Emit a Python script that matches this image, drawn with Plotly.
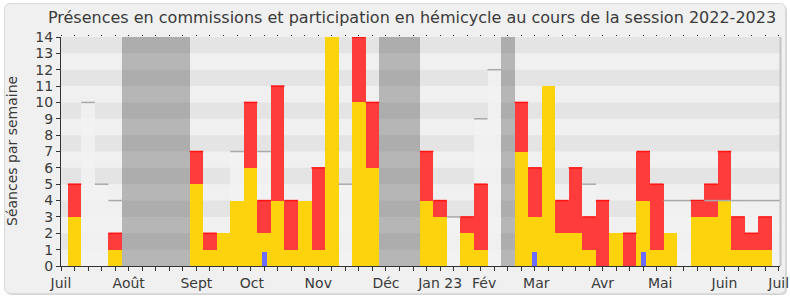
import plotly.graph_objects as go

# ---------------- data (semaine 0 = semaine du 4 juillet 2022) ----------------
weeks = list(range(53))
commission = [3, 0, 0, 1, 0, 0, 0, 0, 0, 5, 1, 2, 4, 6, 2, 4, 1, 4, 1, 14, 0, 10, 6, 0, 0, 0,
              4, 3, 0, 2, 1, 0, 0, 7, 3, 11, 2, 2, 1, 0, 2, 0, 4, 1, 2, 0, 3, 3, 4, 1, 1, 1, 0]
hemicycle = [2, 0, 0, 1, 0, 0, 0, 0, 0, 2, 1, 0, 0, 4, 2, 7, 3, 0, 5, 0, 0, 4, 4, 0, 0, 0,
             3, 1, 0, 1, 4, 0, 0, 3, 3, 0, 2, 4, 2, 4, 0, 2, 3, 4, 0, 0, 1, 2, 3, 2, 1, 2, 0]
questions_weeks = [14, 34, 42]
questions_vals = [0.85, 0.85, 0.85]
mediane_weeks = [1, 2, 3, 12, 14, 20, 28, 30, 31, 38, 44, 45, 46, 47, 48, 49, 50, 51, 52]
mediane_vals = [10, 5, 4, 7, 7, 5, 3, 9, 12, 5, 4, 4, 4, 4, 4, 4, 4, 4, 4]
vacances_weeks = [4, 5, 6, 7, 8, 23, 24, 25, 32]
month_pos = [-1, 4, 9, 13.1, 18, 23, 27, 30.25, 34.1, 39, 43.25, 48, 52]
month_labels = ["Juil", "Août", "Sept", "Oct", "Nov", "Déc", "Jan 23", "Fév", "Mar",
                "Avr", "Mai", "Juin", "Juil"]
y_max = 14

# ---------------- styles ----------------
YELLOW = "#FCD30C"
RED = "#FF3C3C"
RED_TOP = "#FF1212"
BLUE = "#6B6BFF"
TXT = "#3a3a3a"
FONT = "DejaVu Sans"
XR = [-1, 52.1]

def segs(xs, ys):
    sx, sy = [], []
    for x, y in zip(xs, ys):
        sx += [x - 0.5, x + 0.5, None]
        sy += [y, y, None]
    return sx, sy

fig = go.Figure()

# vacances
fig.add_trace(go.Bar(x=vacances_weeks, y=[y_max] * len(vacances_weeks), width=1,
                     marker=dict(color="rgba(0,0,0,0.24)", line=dict(width=0)),
                     hoverinfo="skip", showlegend=False))
# médiane
fig.add_trace(go.Bar(x=mediane_weeks, y=mediane_vals, width=1,
                     marker=dict(color="rgba(243,243,243,0.8)", line=dict(width=0)),
                     hoverinfo="skip", showlegend=False))
mx, my = segs(mediane_weeks, mediane_vals)
fig.add_trace(go.Scatter(x=mx, y=my, mode="lines", line=dict(color="#a9a9a9", width=1.5),
                         hoverinfo="skip", showlegend=False))
# hémicycle (empilé sur commission)
fig.add_trace(go.Bar(x=weeks, y=[h if h else None for h in hemicycle], base=commission, width=1,
                     marker=dict(color=RED, line=dict(width=0)), showlegend=False,
                     name="Participation en hémicycle"))
# commission
fig.add_trace(go.Bar(x=weeks, y=[c if c else None for c in commission], width=1,
                     marker=dict(color=YELLOW, line=dict(width=0)), showlegend=False,
                     name="Présence en commission"))
# ligne du haut des barres rouges
rw = [w for w, h in zip(weeks, hemicycle) if h]
rt = [c + h for c, h in zip(commission, hemicycle) if h]
rx, ry = segs(rw, rt)
fig.add_trace(go.Scatter(x=rx, y=ry, mode="lines", line=dict(color=RED_TOP, width=1.5),
                         xaxis="x2", hoverinfo="skip", showlegend=False))
# questions
fig.add_trace(go.Bar(x=questions_weeks, y=questions_vals, width=0.37, xaxis="x3",
                     marker=dict(color=BLUE, line=dict(width=0)), showlegend=False,
                     name="Questions"))

# ---------------- layout ----------------
L, R, T, B = 61, 10, 37, 34
W, H = 790, 300
pw, ph = W - L - R, H - T - B

def px(x):
    return (x - L) / pw

def py(y):
    return (H - B - y) / ph

def rounded(x0, y0, x1, y1, r):
    rx, ry = r / pw, r / ph
    X0, X1, Y0, Y1 = px(x0), px(x1), py(y0), py(y1)
    return (f"M {X0+rx},{Y0} L {X1-rx},{Y0} Q {X1},{Y0} {X1},{Y0-ry} "
            f"L {X1},{Y1+ry} Q {X1},{Y1} {X1-rx},{Y1} L {X0+rx},{Y1} "
            f"Q {X0},{Y1} {X0},{Y1+ry} L {X0},{Y0-ry} Q {X0},{Y0} {X0+rx},{Y0} Z")

shapes = [
    dict(type="path", xref="paper", yref="paper", path=rounded(6, 5, 787, 295, 6),
         fillcolor="#d6d6d6", line=dict(width=0), layer="below"),
    dict(type="path", xref="paper", yref="paper", path=rounded(4.5, 3.5, 785.5, 293.5, 6),
         fillcolor="#f0f0f0", line=dict(color="#dadada", width=1), layer="below"),
    dict(type="line", xref="paper", yref="paper", x0=px(780.5), x1=px(780.5), y0=0, y1=1,
         line=dict(color="#c4c4c4", width=2), layer="above"),
]
for k in range(1, y_max, 2):
    shapes.append(dict(type="rect", xref="paper", yref="y", x0=0, x1=1, y0=k, y1=k + 1,
                       fillcolor="#e4e4e4", line=dict(width=0), layer="below"))

fig.update_layout(
    width=W, height=H,
    margin=dict(l=L, r=R, t=T, b=B, pad=0, autoexpand=False),
    paper_bgcolor="white", plot_bgcolor="#fafafa",
    barmode="overlay", bargap=0,
    font=dict(family=FONT, color=TXT, size=14),
    title=dict(text="Présences en commissions et participation en hémicycle au cours de la session 2022-2023",
               x=412 / W, xanchor="center", y=1 - 17 / H, yanchor="middle",
               font=dict(family=FONT, size=16, color=TXT)),
    shapes=shapes,
    xaxis=dict(range=XR, tickmode="array", tickvals=list(range(-1, 53)), showticklabels=False,
               ticks="outside", ticklen=4, tickwidth=1, tickcolor="#333", automargin=False,
               showline=True, linecolor="#333", linewidth=1, showgrid=False, zeroline=False,
               fixedrange=True),
    xaxis2=dict(range=XR, overlaying="x", anchor="y", side="bottom", tickmode="array",
                tickvals=month_pos, ticktext=month_labels, ticks="outside", ticklen=4,
                tickcolor="rgba(0,0,0,0)", showline=False, showgrid=False, zeroline=False,
                automargin=False, tickfont=dict(size=14, color=TXT, family=FONT)),
    xaxis3=dict(range=XR, overlaying="x", anchor="y", side="top", tickmode="array",
                tickvals=list(range(-1, 53)), showticklabels=False, ticks="outside",
                ticklen=1.5, tickwidth=1, tickcolor="#222", showline=False, showgrid=False,
                zeroline=False, automargin=False),
    yaxis=dict(range=[0, y_max], tickmode="array", tickvals=list(range(0, y_max + 1)),
               ticks="outside", ticklen=4, tickwidth=1, tickcolor="#333", automargin=False,
               showline=True, linecolor="#333", linewidth=1, showgrid=False, zeroline=False,
               tickfont=dict(size=14, color=TXT, family=FONT)),
    annotations=[dict(text="Séances par semaine", textangle=-90, xref="paper", yref="paper",
                      x=px(12), y=py(151), xanchor="center", yanchor="middle", showarrow=False,
                      font=dict(size=14, color=TXT, family=FONT))],
)

fig.write_html("out.html")
